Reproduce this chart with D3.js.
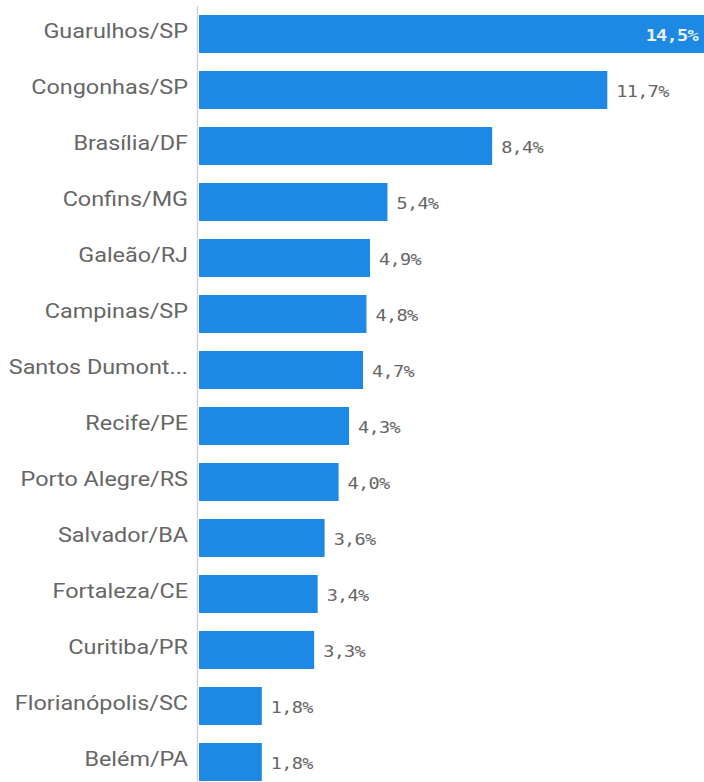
<!DOCTYPE html>
<html>
<head>
<meta charset="utf-8">
<script src="https://cdn.jsdelivr.net/npm/d3@7"></script>
<style>
  html, body { margin: 0; padding: 0; background: #fff; }
  svg { display: block; }
</style>
</head>
<body>
<svg id="chart" width="704" height="782"></svg>
<script>
// Share of passengers by airport
const airports = [
  "Guarulhos/SP", "Congonhas/SP", "Brasília/DF", "Confins/MG", "Galeão/RJ",
  "Campinas/SP", "Santos Dumont/RJ", "Recife/PE", "Porto Alegre/RS",
  "Salvador/BA", "Fortaleza/CE", "Curitiba/PR", "Florianópolis/SC", "Belém/PA"
];
const shares = [14.5, 11.7, 8.4, 5.4, 4.9, 4.8, 4.7, 4.3, 4.0, 3.6, 3.4, 3.3, 1.8, 1.8];

const W = 704, H = 782;
const plotLeft = 199, plotRight = 705;
const firstBarTop = 15, step = 56, barH = 38;
const maxLabelW = 182;      // on-screen width available for a category label
const stretch = 1.2;        // horizontal widening applied to all text

const svg = d3.select("#chart");

const x = d3.scaleLinear()
  .domain([0, d3.max(shares)])
  .range([plotLeft, plotRight]);

const gap = step - barH;
const y = d3.scaleBand()
  .domain(airports)
  .range([firstBarTop - gap / 2, firstBarTop - gap / 2 + step * airports.length])
  .paddingInner(gap / step)
  .paddingOuter(gap / step / 2);

const fmt = v => v.toFixed(1).replace(".", ",") + "%";
const yc = d => y(d) + y.bandwidth() / 2;

// Bars
svg.append("g").selectAll("rect")
  .data(airports)
  .join("rect")
  .attr("x", x(0))
  .attr("y", d => y(d))
  .attr("width", (d, i) => x(shares[i]) - x(0))
  .attr("height", y.bandwidth())
  .attr("fill", "#1e88e5");

// Vertical baseline
svg.append("line")
  .attr("x1", plotLeft - 1.5).attr("x2", plotLeft - 1.5)
  .attr("y1", 6).attr("y2", H)
  .attr("stroke", "#d2d2d2")
  .attr("stroke-width", 1.5);

// Category labels, truncated with ellipsis when too wide
const catG = svg.append("g");
airports.forEach(name => {
  const t = catG.append("text")
    .attr("transform", `translate(${plotLeft - 11},${yc(name)}) scale(${stretch},1)`)
    .attr("dy", "0.23em")
    .attr("text-anchor", "end")
    .attr("font-family", "Roboto, 'Noto Sans', sans-serif")
    .attr("font-size", 19.5)
    .attr("fill", "#666666")
    .text(name);
  let s = name;
  while (t.node().getComputedTextLength() * stretch > maxLabelW && s.length > 1) {
    s = s.slice(0, -1);
    t.text(s.trimEnd() + "...");
  }
});

// Value labels: inside the bar when it reaches the edge, otherwise after it
svg.append("g").selectAll("text")
  .data(airports)
  .join("text")
  .each(function(d, i) {
    const v = shares[i];
    const inside = x(v) + 70 > W;
    const ax = inside ? W - 6 : x(v) + 9;
    d3.select(this)
      .attr("transform", `translate(${ax},${yc(d)}) scale(${stretch},1)`)
      .attr("text-anchor", inside ? "end" : "start")
      .attr("fill", inside ? "#eaf3fc" : "#666666")
      .attr("font-weight", inside ? "bold" : "normal");
  })
  .attr("dy", "0.48em")
  .attr("font-family", "'DejaVu Sans Mono', monospace")
  .attr("font-size", 15.5)
  .attr("letter-spacing", -0.6)
  .text((d, i) => fmt(shares[i]));
</script>
</body>
</html>
